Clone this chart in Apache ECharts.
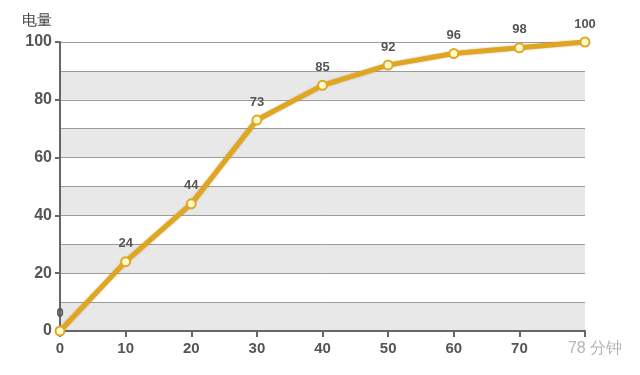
<!DOCTYPE html>
<html><head><meta charset="utf-8">
<script src="https://cdn.jsdelivr.net/npm/echarts@6/dist/echarts.min.js"></script>
<style>html,body{margin:0;padding:0;background:#fff}#c{width:640px;height:375px}</style>
</head><body><div id="c"></div>
<script>
const minutes = [0, 10, 20, 30, 40, 50, 60, 70, 80];
const charge = [0, 24, 44, 73, 85, 92, 96, 98, 100];
const yName = '电量';
const xName = '78 分钟';

const data = minutes.map((m, i) => [m, charge[i]]);
const chart = echarts.init(document.getElementById('c'));
const font = '"Liberation Sans", Arial, sans-serif';
chart.setOption({
  animation: false,
  grid: { left: 60, right: 55, top: 42, bottom: 44, containLabel: false, outerBoundsMode: 'none' },
  xAxis: {
    type: 'value', min: 0, max: 80, interval: 10,
    name: xName, nameLocation: 'end', nameGap: 10,
    nameTextStyle: { color: '#b5b5b5', fontSize: 16, fontFamily: font, align: 'center', verticalAlign: 'top', padding: [10, 0, 0, 0] },
    axisLine: { show: true, lineStyle: { color: '#666', width: 2 } },
    axisTick: { show: true, inside: false, length: 6, lineStyle: { color: '#666', width: 2 } },
    axisLabel: { color: '#555', fontSize: 15, fontWeight: 'bold', fontFamily: font, margin: 10,
      formatter: v => v === 80 ? '' : String(v) },
    splitLine: { show: false }
  },
  yAxis: [{
    type: 'value', min: 0, max: 100, interval: 20,
    name: yName, nameLocation: 'end', nameGap: 14,
    nameTextStyle: { color: '#444', fontSize: 15, fontFamily: font, align: 'right', padding: [0, 8, 0, 0] },
    axisLine: { show: true, lineStyle: { color: '#666', width: 2 } },
    axisTick: { show: true, length: 5, lineStyle: { color: '#666', width: 2 } },
    axisLabel: { color: '#555', fontSize: 16, fontWeight: 'bold', fontFamily: font, margin: 8 },
    splitLine: { show: false }
  }, {
    type: 'value', min: 0, max: 100, interval: 10, position: 'left',
    axisLine: { show: false }, axisTick: { show: false }, axisLabel: { show: false },
    splitLine: { show: true, lineStyle: { color: '#9a9a9a', width: 1 } },
    splitArea: { show: true, areaStyle: { color: ['#e8e8e8', 'rgba(255,255,255,0)'] } }
  }],
  series: [{
    type: 'line', data: data, yAxisIndex: 0,
    lineStyle: { color: '#e0a622', width: 5, shadowColor: 'rgba(150,110,0,0.5)', shadowBlur: 2 },
    symbol: 'circle', symbolSize: 9,
    itemStyle: { color: '#fff8c8', borderColor: '#e0a622', borderWidth: 2 },
    label: { show: true, position: 'top', distance: 6, color: '#555', fontSize: 13, fontWeight: 'bold', fontFamily: font },
    z: 5
  }]
});
</script></body></html>
